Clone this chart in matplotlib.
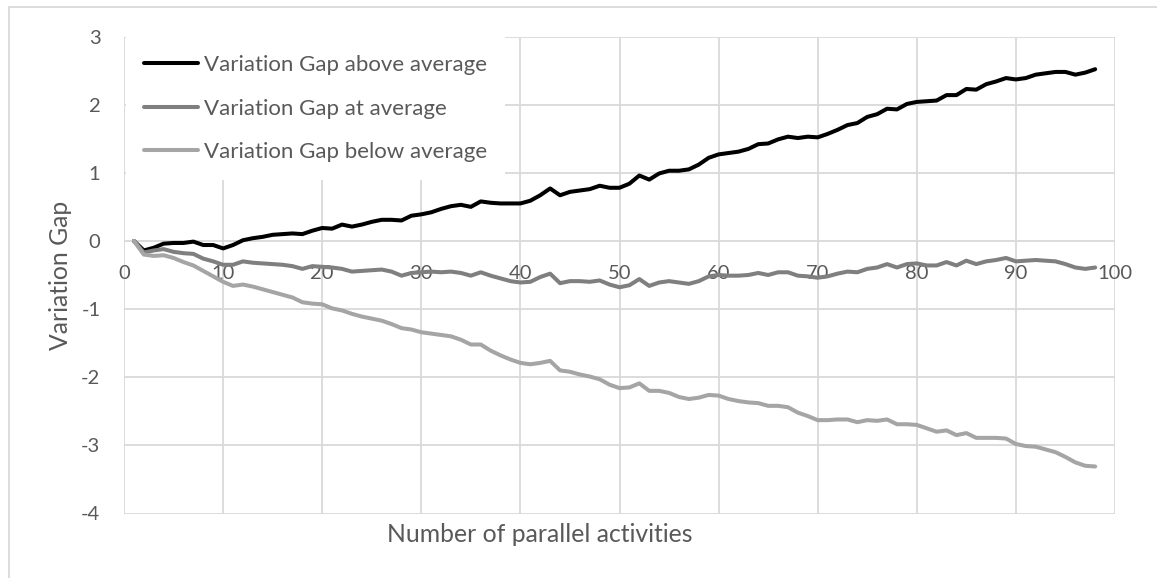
""" Variation Gap vs number of parallel activities """

import numpy as np
import matplotlib
matplotlib.use("Agg")
import matplotlib.pyplot as plt
from matplotlib.lines import Line2D

plt.rcParams['font.family'] = ['Lato', 'DejaVu Sans']
plt.rcParams['axes.unicode_minus'] = False

# x = number of parallel activities (1..98)
n_act = list(range(1, 99))

gap_above = [0.00, -0.14, -0.10, -0.04, -0.03, -0.03, -0.01, -0.06, -0.06, -0.11,
             -0.06, 0.01, 0.04, 0.06, 0.09, 0.10, 0.11, 0.10, 0.15, 0.19,
             0.18, 0.24, 0.21, 0.24, 0.28, 0.31, 0.31, 0.30, 0.37, 0.39,
             0.42, 0.47, 0.51, 0.53, 0.50, 0.58, 0.56, 0.55, 0.55, 0.55,
             0.59, 0.67, 0.77, 0.67, 0.72, 0.74, 0.76, 0.81, 0.78, 0.78,
             0.84, 0.96, 0.90, 0.99, 1.03, 1.03, 1.05, 1.12, 1.22, 1.27,
             1.29, 1.31, 1.35, 1.42, 1.43, 1.49, 1.53, 1.51, 1.53, 1.52,
             1.57, 1.63, 1.70, 1.73, 1.82, 1.86, 1.94, 1.93, 2.01, 2.04,
             2.05, 2.06, 2.14, 2.14, 2.23, 2.22, 2.30, 2.34, 2.39, 2.37,
             2.39, 2.44, 2.46, 2.48, 2.48, 2.44, 2.47, 2.52]

gap_at = [0.00, -0.17, -0.14, -0.12, -0.16, -0.18, -0.19, -0.26, -0.30, -0.35,
          -0.35, -0.30, -0.32, -0.33, -0.34, -0.35, -0.37, -0.41, -0.37, -0.38,
          -0.39, -0.41, -0.45, -0.44, -0.43, -0.42, -0.45, -0.51, -0.47, -0.46,
          -0.45, -0.46, -0.45, -0.47, -0.51, -0.46, -0.51, -0.55, -0.59, -0.61,
          -0.60, -0.53, -0.48, -0.62, -0.59, -0.59, -0.60, -0.58, -0.64, -0.68,
          -0.65, -0.56, -0.66, -0.61, -0.59, -0.61, -0.63, -0.59, -0.52, -0.50,
          -0.51, -0.51, -0.50, -0.47, -0.50, -0.46, -0.46, -0.51, -0.52, -0.54,
          -0.52, -0.48, -0.45, -0.46, -0.41, -0.39, -0.34, -0.39, -0.34, -0.33,
          -0.36, -0.36, -0.31, -0.36, -0.29, -0.34, -0.30, -0.28, -0.25, -0.30,
          -0.29, -0.28, -0.29, -0.30, -0.34, -0.39, -0.41, -0.39]

gap_below = [0.00, -0.20, -0.22, -0.21, -0.25, -0.31, -0.36, -0.44, -0.52, -0.60,
             -0.66, -0.64, -0.67, -0.71, -0.75, -0.79, -0.83, -0.90, -0.92, -0.93,
             -0.99, -1.02, -1.07, -1.11, -1.14, -1.17, -1.22, -1.28, -1.30, -1.34,
             -1.36, -1.38, -1.40, -1.45, -1.52, -1.52, -1.61, -1.68, -1.74, -1.79,
             -1.81, -1.79, -1.76, -1.90, -1.92, -1.96, -1.99, -2.03, -2.11, -2.16,
             -2.15, -2.09, -2.20, -2.20, -2.23, -2.29, -2.32, -2.30, -2.26, -2.27,
             -2.32, -2.35, -2.37, -2.38, -2.42, -2.42, -2.44, -2.52, -2.57, -2.63,
             -2.63, -2.62, -2.62, -2.66, -2.63, -2.64, -2.62, -2.69, -2.69, -2.70,
             -2.75, -2.80, -2.78, -2.85, -2.82, -2.89, -2.89, -2.89, -2.90, -2.98,
             -3.01, -3.02, -3.06, -3.10, -3.17, -3.25, -3.30, -3.31]

labels = ['Variation Gap above average', 'Variation Gap at average', 'Variation Gap below average']
colors = ['#000000', '#7f7f7f', '#a5a5a5']

txt = '#595959'
grid_c = '#d9d9d9'
fs_tick = 14.5
fs_leg = 16
fs_title = 17.8

fig = plt.figure(figsize=(11.57, 5.78), dpi=100)
ax = fig.add_axes([124/1157, 1 - 513.5/578, 991/1157, 477/578])

for ys, lab, c in zip([gap_above, gap_at, gap_below], labels, colors):
    ax.plot(n_act, ys, color=c, lw=2.9, label=lab,
            solid_joinstyle='round', solid_capstyle='round', zorder=3)

ax.set_xlim(0, 100)
ax.set_ylim(-4, 3)
ax.set_xticks(range(0, 101, 10))
ax.set_yticks(range(-4, 4))
ax.grid(True, color=grid_c, lw=1.3, zorder=0)
ax.set_axisbelow(True)

for s in ['top', 'right', 'left']:
    ax.spines[s].set_visible(False)
ax.spines['bottom'].set_position(('data', 0))
ax.spines['bottom'].set_visible(False)

ax.tick_params(axis='x', length=0, pad=17, labelsize=fs_tick, labelcolor=txt)
ax.tick_params(axis='y', length=0, pad=17, labelsize=fs_tick, labelcolor=txt)

ax.set_xlabel('Number of parallel activities', fontsize=fs_title, color=txt, va='center')
ax.xaxis.set_label_coords((540 - 124) / 991, (513.5 - 535) / 477)
ax.set_ylabel('Variation Gap', fontsize=fs_title, color=txt, va='center')
ax.yaxis.set_label_coords((60 - 124) / 991, 0.5)

leg = ax.legend(loc='upper left', bbox_to_anchor=(0.002, 0.998), fontsize=fs_leg,
                frameon=True, fancybox=False, framealpha=1, facecolor='white',
                edgecolor='none', handlelength=2.45, handletextpad=0.25,
                labelspacing=1.05, borderpad=0.8, borderaxespad=0)
for t in leg.get_texts():
    t.set_color(txt)

# outer chart border
fig.add_artist(Line2D([9/1157, 1], [1 - 7/578, 1 - 7/578], color=grid_c, lw=1.3))
fig.add_artist(Line2D([9/1157, 9/1157], [0, 1 - 7/578], color=grid_c, lw=1.3))

plt.savefig('out.png', dpi=100)
